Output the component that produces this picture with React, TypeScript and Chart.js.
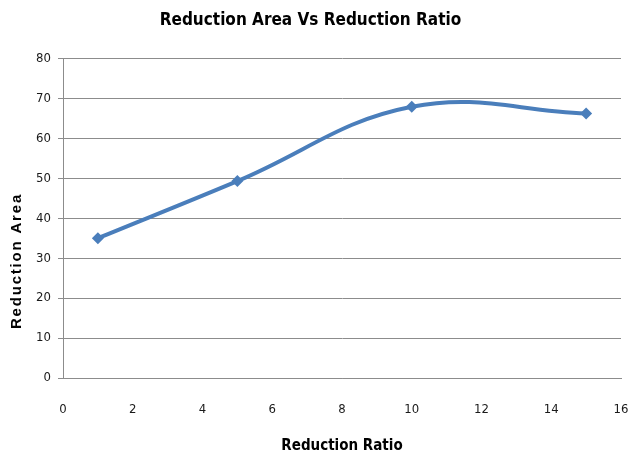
import React, { useEffect, useRef } from 'react';
import { Chart, registerables } from 'chart.js';

Chart.register(...registerables);

const CHART_TITLE = 'Reduction Area Vs Reduction Ratio';
const X_TITLE = 'Reduction Ratio';
const Y_TITLE = 'Reduction Area';

const reductionRatio = [1, 5, 10, 15];
const reductionArea = [35, 49.3, 67.9, 66.2];

const X_MIN = 0;
const X_MAX = 16;
const X_STEP = 2;
const Y_MIN = 0;
const Y_MAX = 80;
const Y_STEP = 10;

const NARROW = '"Liberation Sans Narrow", "DejaVu Sans Condensed", "Arial Narrow", sans-serif';
const LINE_COLOR = '#4A7EBB';
const GRID_COLOR = '#8C8C8C';

const yTitlePlugin = {
  id: 'yTitleCustom',
  afterDraw(chart: any) {
    const ctx = chart.ctx as CanvasRenderingContext2D;
    ctx.save();
    ctx.translate(17, 261);
    ctx.rotate(-Math.PI / 2);
    ctx.font = 'bold 15px "Liberation Sans", Arial, sans-serif';
    (ctx as any).letterSpacing = '1.8px';
    ctx.textAlign = 'center';
    ctx.textBaseline = 'middle';
    ctx.fillStyle = '#000000';
    ctx.fillText(Y_TITLE, 0, 0);
    ctx.restore();
  },
};

export default function App() {
  const canvasRef = useRef<HTMLCanvasElement | null>(null);

  useEffect(() => {
    document.body.style.margin = '0';
    const canvas = canvasRef.current;
    if (!canvas) return;
    const points = reductionRatio.map((x, i) => ({ x, y: reductionArea[i] }));
    const chart = new Chart(canvas, {
      type: 'scatter',
      data: {
        datasets: [
          {
            label: Y_TITLE,
            data: points,
            showLine: true,
            borderColor: LINE_COLOR,
            backgroundColor: LINE_COLOR,
            borderWidth: 4,
            tension: 0.4,
            pointStyle: 'rectRot',
            pointRadius: 6,
            pointBorderWidth: 0,
            pointBackgroundColor: LINE_COLOR,
          },
        ],
      },
      options: {
        responsive: false,
        animation: false,
        devicePixelRatio: 1,
        layout: { padding: { left: 0, right: 10, top: 0, bottom: 0 } },
        plugins: {
          legend: { display: false },
          tooltip: { enabled: false },
          title: {
            display: true,
            text: CHART_TITLE,
            color: '#000000',
            font: { family: NARROW, size: 17, weight: 'bold' },
            padding: { top: 10, bottom: 28 },
          },
        },
        scales: {
          x: {
            type: 'linear',
            min: X_MIN,
            max: X_MAX,
            ticks: {
              stepSize: X_STEP,
              color: '#1a1a1a',
              font: { family: NARROW, size: 13 },
              padding: 24,
              maxRotation: 0,
            },
            grid: { display: true, drawOnChartArea: false, drawTicks: false },
            border: { display: true, color: GRID_COLOR, width: 1 },
            title: {
              display: true,
              text: X_TITLE,
              color: '#000000',
              font: { family: NARROW, size: 15, weight: 'bold' },
              padding: { top: 0, bottom: 6 },
            },
            afterFit(scale: any) {
              scale.height = 83;
              scale.paddingRight = 0;
              scale.paddingLeft = 0;
            },
          },
          y: {
            type: 'linear',
            min: Y_MIN,
            max: Y_MAX,
            ticks: {
              stepSize: Y_STEP,
              color: '#1a1a1a',
              font: { family: NARROW, size: 13 },
              padding: 7,
            },
            grid: { color: GRID_COLOR, lineWidth: 1, drawTicks: true, tickLength: 5 },
            border: { display: true, color: GRID_COLOR, width: 1 },
            afterFit(scale: any) {
              scale.width = 63;
            },
          },
        },
      },
      plugins: [yTitlePlugin],
    });
    return () => chart.destroy();
  }, []);

  return (
    <div style={{ width: 631, height: 461 }}>
      <canvas ref={canvasRef} width={631} height={461} />
    </div>
  );
}
